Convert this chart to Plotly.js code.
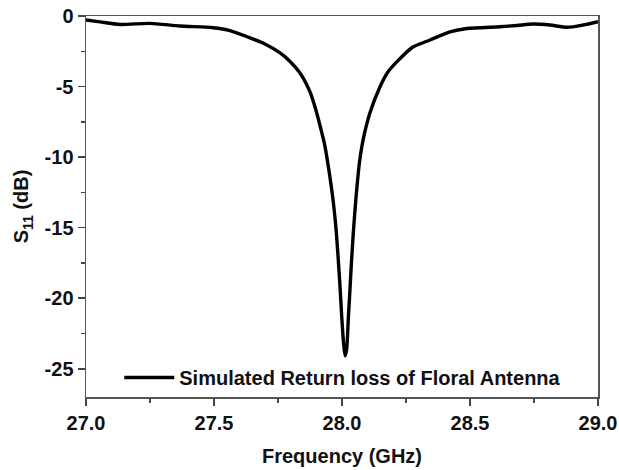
<!DOCTYPE html>
<html>
<head>
<meta charset="utf-8">
<script src="https://cdn.plot.ly/plotly-3.0.1.min.js"></script>
<style>html,body{margin:0;padding:0;background:#fff;}#chart{width:619px;height:470px;}</style>
</head>
<body>
<div id="chart"></div>
<script>
// Frequency (GHz)
const freq = [27.000, 27.055, 27.133, 27.250, 27.367, 27.496, 27.5625, 27.629, 27.699, 27.758, 27.797, 27.836, 27.875, 27.898, 27.916, 27.932, 27.946, 27.965, 27.977, 27.986, 27.993, 27.999, 28.006, 28.012, 28.018, 28.025, 28.031, 28.037, 28.045, 28.054, 28.068, 28.078, 28.088, 28.109, 28.148, 28.180, 28.214, 28.277, 28.344, 28.422, 28.488, 28.617, 28.684, 28.746, 28.8125, 28.879, 28.941, 29.000];
// S11 (dB)
const s11 = [-0.28, -0.42, -0.60, -0.52, -0.71, -0.83, -1.03, -1.47, -1.98, -2.62, -3.22, -4.04, -5.38, -6.66, -7.90, -9.10, -10.60, -13.03, -15.16, -17.42, -19.41, -21.32, -23.16, -24.08, -23.65, -21.32, -19.41, -17.42, -15.16, -13.03, -10.41, -9.20, -8.30, -6.87, -5.03, -3.95, -3.25, -2.20, -1.70, -1.13, -0.89, -0.76, -0.67, -0.57, -0.64, -0.80, -0.64, -0.40];

const xTickVals = [27.0, 27.5, 28.0, 28.5, 29.0];
const xTickText = ["27.0", "27.5", "28.0", "28.5", "29.0"];
const yTickVals = [0, -5, -10, -15, -20, -25];
const yTickText = ["0", "-5", "-10", "-15", "-20", "-25"];

const seriesName = "Simulated Return loss of Floral Antenna";

const font = {family: "Liberation Sans, Arial, sans-serif", size: 20, color: "#111", weight: "bold"};

Plotly.newPlot("chart", [{
  x: freq, y: s11, type: "scatter", mode: "lines", name: seriesName,
  line: {color: "#000", width: 3.4, shape: "spline", smoothing: 0.7}
}], {
  width: 619, height: 470,
  margin: {l: 86, r: 21, t: 16, b: 73},
  paper_bgcolor: "#fff", plot_bgcolor: "#fff",
  font: font,
  showlegend: true,
  legend: {x: 0.065, y: 0.0, xanchor: "left", yanchor: "bottom", bgcolor: "rgba(0,0,0,0)", font: font, itemwidth: 50},
  xaxis: {
    range: [27, 29], tickvals: xTickVals, ticktext: xTickText,
    ticks: "outside", ticklen: 7, tickwidth: 1.5, tickcolor: "#444",
    showline: true, linecolor: "#555", linewidth: 1.5, mirror: true,
    showgrid: false, zeroline: false,
    minor: {dtick: 0.25, ticks: "outside", ticklen: 4, tickwidth: 1.5, tickcolor: "#444", showgrid: false},
    tickfont: font,
    title: {text: "Frequency (GHz)", font: font, standoff: 16}
  },
  yaxis: {
    range: [-27, 0], tickvals: yTickVals, ticktext: yTickText,
    ticks: "outside", ticklen: 7, tickwidth: 1.5, tickcolor: "#444",
    showline: true, linecolor: "#555", linewidth: 1.5, mirror: true,
    showgrid: false, zeroline: false,
    minor: {dtick: 2.5, ticks: "outside", ticklen: 4, tickwidth: 1.5, tickcolor: "#444", showgrid: false},
    tickfont: font,
    title: {text: "S<sub>11</sub> (dB)", font: font, standoff: 10}
  }
}, {displayModeBar: false, staticPlot: true});
</script>
</body>
</html>
